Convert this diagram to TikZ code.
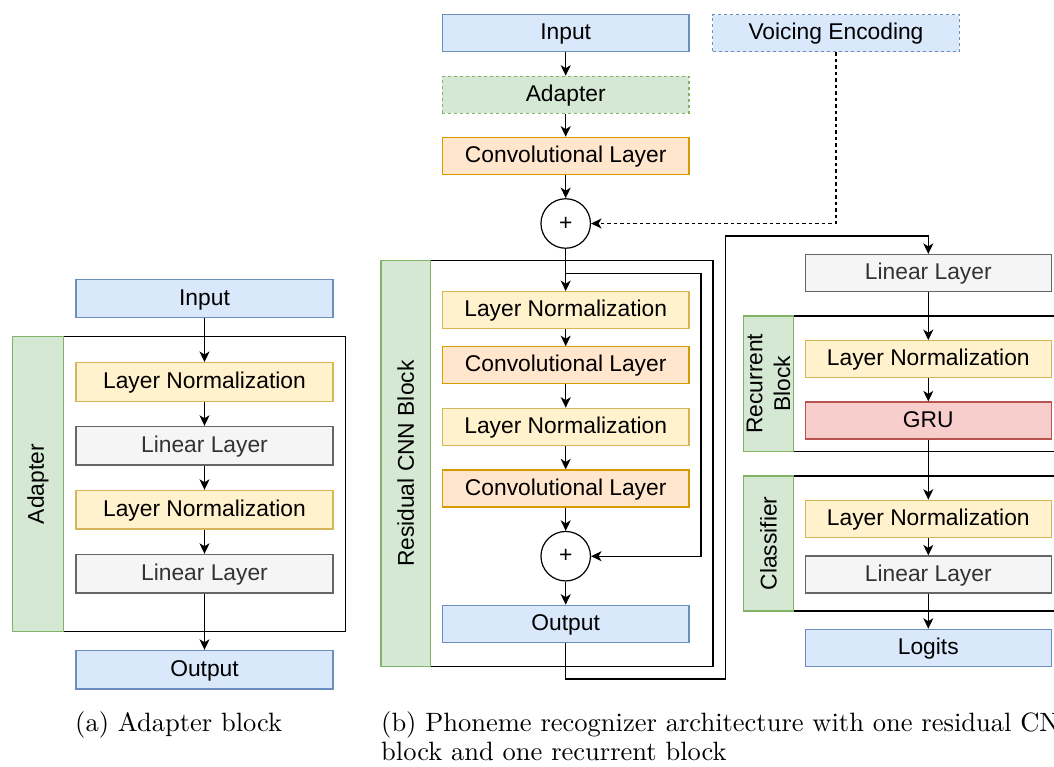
\documentclass[tikz,border=0pt]{standalone}
\usepackage{fontspec}
\usepackage{graphicx}
\usetikzlibrary{arrows.meta}
\newfontfamily\arialf{Liberation Sans}
\definecolor{blueF}{HTML}{DAE8FC}\definecolor{blueD}{HTML}{6C8EBF}
\definecolor{yelF}{HTML}{FFF2CC}\definecolor{yelD}{HTML}{D6B656}
\definecolor{oraF}{HTML}{FFE6CC}\definecolor{oraD}{HTML}{D79B00}
\definecolor{grayF}{HTML}{F5F5F5}\definecolor{grayD}{HTML}{666666}\definecolor{grayT}{HTML}{333333}
\definecolor{redF}{HTML}{F8CECC}\definecolor{redD}{HTML}{B85450}
\definecolor{grnF}{HTML}{D5E8D4}\definecolor{grnD}{HTML}{82B366}
\tikzset{
  txt/.style={font=\arialf\fontsize{22.8}{27.7}\selectfont},
  box/.style={txt, draw, line width=1.2pt, inner sep=0pt, minimum height=37pt, text height=17pt, text depth=4pt},
  wa/.style={box, minimum width=257pt, minimum height=38.5pt},
  wb/.style={box, minimum width=246.7pt},
  wc/.style={box, minimum width=246pt},
  bluebox/.style={fill=blueF, draw=blueD},
  yelbox/.style={fill=yelF, draw=yelD},
  orabox/.style={fill=oraF, draw=oraD},
  graybox/.style={fill=grayF, draw=grayD, text=grayT},
  redbox/.style={fill=redF, draw=redD},
  grnbox/.style={fill=grnF, draw=grnD},
  dashbox/.style={dash pattern=on 3pt off 3pt},
  frm/.style={draw=black, fill=white, line width=1.2pt},
  lane/.style={draw=grnD, fill=grnF, line width=1.2pt},
  arr/.style={-{Stealth[length=10.5pt,width=10pt,inset=3pt]}, line width=1.3pt},
  plus/.style={txt, circle, draw, fill=white, line width=1.2pt, inner sep=0pt, minimum size=49.5pt},
  lanelabel/.style={txt, rotate=90, align=center},
}
\begin{document}
\begin{tikzpicture}[x=1pt,y=-1pt]
\useasboundingbox[fill=white] (0,0) rectangle (1054,767);

% ---------------- (a) Adapter block
\draw[frm] (63.7,336.7) rectangle (345.3,631.7);
\draw[lane] (12.3,336.7) rectangle (63.7,631.7);
\node[lanelabel] (alab) at (38,484.2) {Adapter};

\node[wa, bluebox] (ain) at (204.5,298.5) {Input};
\node[wa, yelbox] (aln1) at (204.5,381.85) {Layer Normalization};
\node[wa, graybox] (alin1) at (204.5,445.65) {Linear Layer};
\node[wa, yelbox] (aln2) at (204.5,509.65) {Layer Normalization};
\node[wa, graybox] (alin2) at (204.5,573.65) {Linear Layer};
\node[wa, bluebox] (aout) at (204.5,669.65) {Output};

\draw[arr] (ain) -- (aln1);
\draw[arr] (aln1) -- (alin1);
\draw[arr] (alin1) -- (aln2);
\draw[arr] (aln2) -- (alin2);
\draw[arr] (alin2) -- (aout);

% ---------------- (b) middle column
\draw[frm] (430.3,260.7) rectangle (713,666.7);
\draw[lane] (381,260.7) rectangle (430.3,666.7);
\node[lanelabel] (blab) at (405.7,463.7) {Residual CNN Block};

\node[wb, bluebox] (bin) at (565.7,33.2) {Input};
\node[wb, grnbox, dashbox] (badp) at (565.7,94.8) {Adapter};
\node[wb, orabox] (bconv0) at (565.7,155.8) {Convolutional Layer};
\node[plus] (p1) at (565.7,223.5) {+};
\node[wb, yelbox] (bln1) at (565.7,310.2) {Layer Normalization};
\node[wb, orabox] (bconv1) at (565.7,365.3) {Convolutional Layer};
\node[wb, yelbox] (bln2) at (565.7,426.8) {Layer Normalization};
\node[wb, orabox] (bconv2) at (565.7,488.5) {Convolutional Layer};
\node[plus] (p2) at (565.7,556.2) {+};
\node[wb, bluebox] (bout) at (565.7,623.8) {Output};

\node[wb, bluebox, dashbox] (voice) at (836,33.2) {Voicing Encoding};

\draw[arr] (bin) -- (badp);
\draw[arr] (badp) -- (bconv0);
\draw[arr] (bconv0) -- (p1);
\draw[arr] (p1) -- (bln1);
\draw[arr] (bln1) -- (bconv1);
\draw[arr] (bconv1) -- (bln2);
\draw[arr] (bln2) -- (bconv2);
\draw[arr] (bconv2) -- (p2);
\draw[arr] (p2) -- (bout);

\draw[arr, dash pattern=on 3.5pt off 3pt] (voice.south) -- (voice.south |- p1) -- (p1.east);

\coordinate (s0) at (565.7,273.3);
\coordinate (s1) at (701,273.3);
\draw[arr] (s0) -- (s1) -- (s1 |- p2) -- (p2.east);

% ---------------- (b) right column
\draw[frm] (793.3,316) rectangle (1062,451.3);
\draw[lane] (743.7,316) rectangle (793.3,451.3);
\node[lanelabel] (rlab) at (768.5,383.7) {Recurrent\\Block};

\draw[frm] (793.3,476) rectangle (1062,611);
\draw[lane] (743.7,476) rectangle (793.3,611);
\node[lanelabel] (clab) at (768.5,543.5) {Classifier};

\node[wc, graybox] (rlin) at (928.3,273) {Linear Layer};
\node[wc, yelbox] (rln) at (928.3,359.2) {Layer Normalization};
\node[wc, redbox] (gru) at (928.3,420.5) {GRU};
\node[wc, yelbox] (cln) at (928.3,518.8) {Layer Normalization};
\node[wc, graybox] (clin) at (928.3,574.5) {Linear Layer};
\node[wc, bluebox] (logits) at (928.3,647.8) {Logits};

\draw[arr] (rlin) -- (rln);
\draw[arr] (rln) -- (gru);
\draw[arr] (gru) -- (cln);
\draw[arr] (cln) -- (clin);
\draw[arr] (clin) -- (logits);

\coordinate (o1) at (565.7,679);
\coordinate (o2) at (725.3,679);
\coordinate (o3) at (725.3,236);
\draw[arr] (bout.south) -- (o1) -- (o2) -- (o3) -- (o3 -| rlin) -- (rlin.north);

% ---------------- captions
\node[anchor=base west, inner sep=0pt] (capa) at (75,731) {\scalebox{2.65}{(a) Adapter block}};
\node[anchor=base west, inner sep=0pt] (capb1) at (381,731) {\scalebox{2.65}{(b) Phoneme recognizer architecture with one residual CNN}};
\node[anchor=base west, inner sep=0pt] (capb2) at (381,760) {\scalebox{2.65}{block and one recurrent block}};
\end{tikzpicture}
\end{document}
